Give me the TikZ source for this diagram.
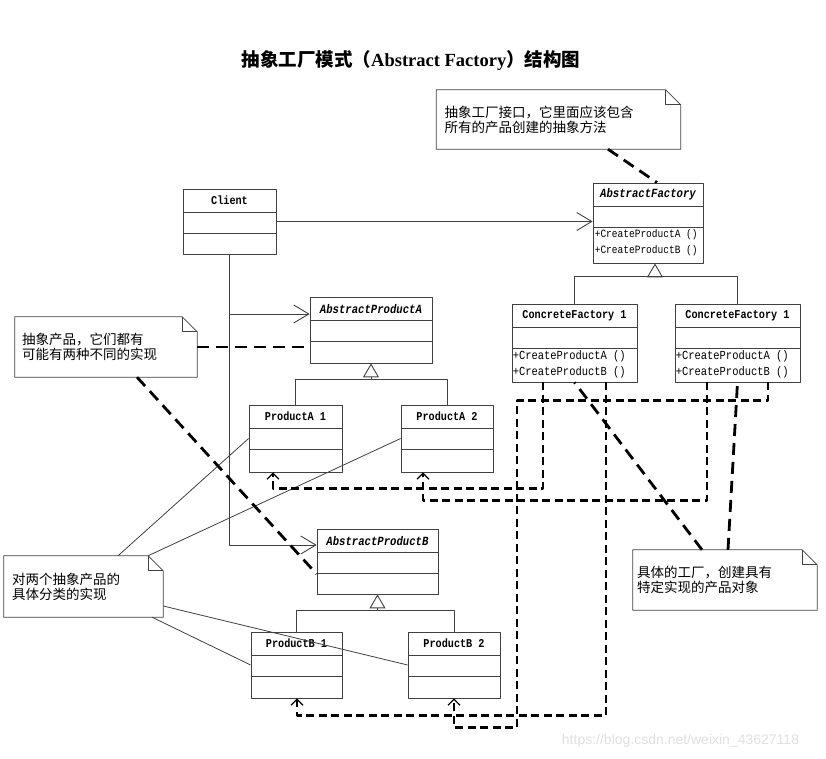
\documentclass[tikz,border=0pt]{standalone}
\usepackage{fontspec}
\setmainfont{Liberation Serif}
\setmonofont{Liberation Mono}
\setsansfont{Liberation Sans}
\newfontfamily\cjk{Noto Sans CJK SC}
\newfontfamily\umlmono[FakeStretch=0.85]{Liberation Mono}
\usetikzlibrary{arrows.meta}
\tikzset{
  classbox/.style={draw=black!75,line width=0.8bp,inner sep=0pt},
  classname/.style={inner sep=0pt,font=\fontsize{12bp}{14bp}\selectfont\umlmono\bfseries},
  abstractname/.style={inner sep=0pt,font=\fontsize{12.5bp}{14bp}\selectfont\umlmono\bfseries\itshape},
  classops/.style={inner sep=0pt,anchor=west,align=left,font=\fontsize{12.3bp}{15.5bp}\selectfont\umlmono},
  notebox/.style={draw=none,inner ysep=0pt,align=left,font=\fontsize{13.5bp}{15bp}\selectfont\cjk},
  solidlink/.style={draw=black!75,line width=0.8bp},
  assoc/.style={solidlink,-{Straight Barb[length=15bp,width=18bp,line width=0.9bp]}},
  inherit/.style={solidlink,-{Triangle[open,length=14bp,width=16bp,line width=0.9bp]}},
  notelink/.style={black,line width=2.8bp,dash pattern=on 12bp off 7bp},
  dep/.style={black,line width=2.3bp,dash pattern=on 8bp off 4.5bp,-{Straight Barb[length=6bp,width=12bp,line width=1.2bp]}},
}
\begin{document}
\begin{tikzpicture}[>=latex,line join=bevel,]
\useasboundingbox (0bp,0bp) rectangle (826bp,759bp);
%%
\node (title) at (411bp,698bp) [font=\fontsize{18.5bp}{21bp}\selectfont\bfseries] {{\cjk 抽象工厂模式（}Abstract Factory{\cjk ）结构图}};
%
\node (node_client) at (229.5bp,537.5bp) [classbox,minimum width=93bp,minimum height=65bp] {};
  \node (node_af) at (648bp,536bp) [classbox,minimum width=110bp,minimum height=80bp] {};
  \node (node_apa) at (371bp,429bp) [classbox,minimum width=122bp,minimum height=66bp] {};
  \node (node_pa1) at (295.5bp,320.5bp) [classbox,minimum width=93bp,minimum height=67bp] {};
  \node (node_pa2) at (447bp,320.5bp) [classbox,minimum width=92bp,minimum height=67bp] {};
  \node (node_apb) at (377.5bp,197.5bp) [classbox,minimum width=121bp,minimum height=65bp] {};
  \node (node_pb1) at (296.5bp,94bp) [classbox,minimum width=91bp,minimum height=66bp] {};
  \node (node_pb2) at (454bp,94bp) [classbox,minimum width=92bp,minimum height=66bp] {};
  \node (node_cf1) at (574.5bp,416bp) [classbox,minimum width=125bp,minimum height=78bp] {};
  \node (node_cf2) at (737.5bp,416bp) [classbox,minimum width=125bp,minimum height=78bp] {};
%
\foreach \n in {node_client,node_af,node_apa,node_pa1,node_pa2,node_apb,node_pb1,node_pb2,node_cf1,node_cf2} {
  \draw [solidlink] ([yshift=-24bp]\n.north west) -- ([yshift=-24bp]\n.north east);
  \draw [solidlink] ([yshift=-45bp]\n.north west) -- ([yshift=-45bp]\n.north east);
}
%
\node (name_client) at ([yshift=-12bp]node_client.north) [classname] {Client};
  \node (name_af) at ([yshift=-12bp]node_af.north) [abstractname] {AbstractFactory};
  \node (name_apa) at ([yshift=-12bp]node_apa.north) [abstractname] {AbstractProductA};
  \node (name_pa1) at ([yshift=-12bp]node_pa1.north) [classname] {ProductA 1};
  \node (name_pa2) at ([yshift=-12bp]node_pa2.north) [classname] {ProductA 2};
  \node (name_apb) at ([yshift=-12bp]node_apb.north) [abstractname] {AbstractProductB};
  \node (name_pb1) at ([yshift=-12bp]node_pb1.north) [classname] {ProductB 1};
  \node (name_pb2) at ([yshift=-12bp]node_pb2.north) [classname] {ProductB 2};
  \node (name_cf1) at ([yshift=-12bp]node_cf1.north) [classname] {ConcreteFactory 1};
  \node (name_cf2) at ([yshift=-12bp]node_cf2.north) [classname] {ConcreteFactory 1};
%
\node (ops_af) at ([xshift=2bp,yshift=-60bp]node_af.north west) [classops,font=\fontsize{11.2bp}{15.5bp}\selectfont\umlmono] {+CreateProductA ()\\+CreateProductB ()};
  \node (ops_cf1) at ([xshift=1bp,yshift=-60.5bp]node_cf1.north west) [classops] {+CreateProductA ()\\+CreateProductB ()};
  \node (ops_cf2) at ([xshift=1bp,yshift=-60.5bp]node_cf2.north west) [classops] {+CreateProductA ()\\+CreateProductB ()};
%
\node (note_top) at (558.5bp,639.5bp) [notebox,minimum width=243bp,minimum height=59bp,text width=228bp,inner xsep=8bp] {抽象工厂接口，它里面应该包含\\所有的产品创建的抽象方法};
  \node (note_a) at (106bp,412bp) [notebox,minimum width=182bp,minimum height=60bp,text width=168bp,inner xsep=7bp] {抽象产品，它们都有\\可能有两种不同的实现};
  \node (note_b) at (83.5bp,172.5bp) [notebox,minimum width=159bp,minimum height=61bp,text width=143bp,inner xsep=8bp] {对两个抽象产品的\\具体分类的实现};
  \node (note_f) at (725bp,179bp) [notebox,minimum width=184bp,minimum height=60bp,text width=176bp,inner xsep=4bp] {具体的工厂，创建具有\\特定实现的产品对象};
\foreach \n in {note_top,note_a,note_b,note_f} {
  \draw [solidlink] (\n.south west) -- (\n.north west) -- ([xshift=-15bp]\n.north east) -- ([yshift=-15bp]\n.north east) -- (\n.south east) -- cycle;
  \draw [solidlink] ([xshift=-15bp]\n.north east) -- ([xshift=-15bp,yshift=-15bp]\n.north east) -- ([yshift=-15bp]\n.north east);
}
%
\coordinate (cf_bar) at ([xshift=7bp,yshift=-13bp]node_af.south);
  \coordinate (apa_bar) at ([yshift=-16bp]node_apa.south);
  \coordinate (apb_bar) at ([yshift=-16bp]node_apb.south);
  \draw [solidlink] (node_cf1.north) |- (cf_bar) -| (node_cf2.north);
  \draw [inherit] (cf_bar) -- ([xshift=7bp]node_af.south);
  \draw [solidlink] (node_pa1.north) |- (apa_bar) -| (node_pa2.north);
  \draw [inherit] (apa_bar) -- (node_apa.south);
  \draw [solidlink] (node_pb1.north) |- (apb_bar) -| (node_pb2.north);
  \draw [inherit] (apb_bar) -- (node_apb.south);
%
\draw [assoc] (node_client.east) -- (node_client.east -| node_af.west);
  \draw [assoc] (node_client.south) |- ([yshift=16.5bp]node_apb.west);
  \draw [assoc] ([yshift=16bp]node_apa.west -| node_client.south) -- ([yshift=16bp]node_apa.west);
%
\draw [solidlink] ([xshift=34.5bp]note_b.north) -- (node_pa1.west);
  \draw [solidlink] ([xshift=64.5bp]note_b.north) -- (node_pa2.west);
  \draw [solidlink] ([yshift=-19.5bp]note_b.east) -- (node_pb2.west);
  \draw [solidlink] ([xshift=68.5bp]note_b.south) -- (node_pb1.west);
%
\draw [notelink] ([xshift=49.5bp]note_top.south) -- ([xshift=9bp]node_af.north);
  \draw [notelink] (note_a.east) -- (note_a.east -| node_apa.west);
  \draw [notelink] ([xshift=31bp]note_a.south) -- ([yshift=-12.5bp]node_apb.west);
  \draw [notelink] ([xshift=-23bp]note_f.north) -- (node_cf1.south);
  \draw [notelink] ([xshift=3bp]note_f.north) -- (node_cf2.south);
%
\draw [dep] ([xshift=-31.5bp]node_cf1.south) -- ++(0,-106bp) -| ([xshift=-22.5bp]node_pa1.south);
  \draw [dep] ([xshift=31.5bp]node_cf1.south) -- ++(0,-333bp) -| ([xshift=0.5bp]node_pb1.south);
  \draw [dep] ([xshift=-30.5bp]node_cf2.south) -- ++(0,-118bp) -| ([xshift=-24bp]node_pa2.south);
  \draw [dep] ([xshift=30.5bp]node_cf2.south) -- ++(0,-18bp) -- ++(-251bp,0) -- ++(0,-327bp) -| (node_pb2.south);
%
\node (mark) at (680.5bp,18bp) [text=black!12,font=\fontsize{14bp}{16bp}\selectfont\sffamily] {https://blog.csdn.net/weixin\_43627118};
%
\end{tikzpicture}
\end{document}
